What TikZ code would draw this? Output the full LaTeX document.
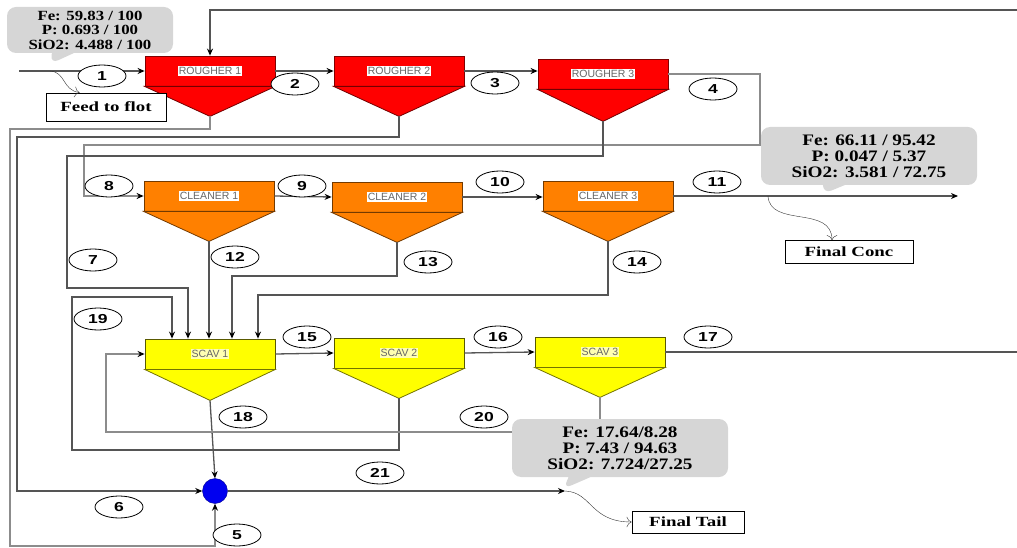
\documentclass[tikz,border=0pt]{standalone}
\usepackage{fontspec}
\setmainfont{Liberation Serif}
\newfontfamily\numfam{Liberation Sans}[FakeStretch=1.35]
\newfontfamily\tankfam{Liberation Sans}
\newfontfamily\infofam{Liberation Serif}[FakeStretch=1.2]
\newfontfamily\boxfam{Liberation Serif}[FakeStretch=1.35]
\usepackage{tikz}
\usetikzlibrary{arrows.meta,positioning,shapes.geometric,shapes.callouts,calc}
\definecolor{rougherred}{RGB}{255,0,0}
\definecolor{cleanerorange}{RGB}{255,128,0}
\definecolor{scavyellow}{RGB}{255,255,0}
\definecolor{linegray}{RGB}{85,85,85}
\definecolor{lightline}{RGB}{140,140,140}
\definecolor{infogray}{RGB}{214,214,214}
\definecolor{mixblue}{RGB}{0,0,240}
\setlength{\fboxsep}{1pt}
\newcommand{\tklbl}[2][white]{\colorbox{#1}{#2}}

\begin{document}
\begin{tikzpicture}[x=1pt,y=-1pt,
  tank/.style={rectangle,thick,minimum width=130pt,minimum height=30pt,inner sep=0pt,
               text=black!60,font=\tankfam\fontsize{10.5}{10.5}\selectfont},
  rougher/.style={tank,draw=rougherred!50!black,fill=rougherred},
  cleaner/.style={tank,draw=cleanerorange!45!black,fill=cleanerorange},
  scav/.style={tank,draw=scavyellow!35!black,fill=scavyellow},
  cone/.style={thick,draw=#1!45!black,fill=#1},
  num/.style={ellipse,draw,thick,fill=white,minimum width=48pt,minimum height=22pt,
              inner sep=0pt,font=\numfam\bfseries\fontsize{13}{13}\selectfont},
  pipe/.style={draw=linegray,line width=1.3pt},
  flow/.style={pipe,-{Stealth[length=7pt,width=6pt,color=black]}},
  info/.style={rectangle callout,fill=infogray,rounded corners=9pt,align=center,inner sep=0pt,
               callout pointer width=22pt,font=\infofam\bfseries\fontsize{16}{16}\selectfont},
  namebox/.style={rectangle,draw,thick,fill=white,inner sep=0pt,
                  font=\boxfam\bfseries\fontsize{14}{14}\selectfont},
  mixer/.style={circle,fill=mixblue,draw=mixblue!60!black,minimum size=25pt,inner sep=0pt},
  note/.style={-{To[length=5pt]},thin,black!80}
]
\clip (0,0) rectangle (1017,548);
%% Cuves
\node[rougher] (R1) at (210,71) {\tklbl{ROUGHER 1}};
\node[rougher] (R2) at (399,71) {\tklbl{ROUGHER 2}};
\node[rougher] (R3) at (603,74) {\tklbl{ROUGHER 3}};
\node[cleaner] (C1) at (209,196) {\tklbl{CLEANER 1}};
\node[cleaner] (C2) at (397,197) {\tklbl{CLEANER 2}};
\node[cleaner] (C3) at (608,196) {\tklbl{CLEANER 3}};
\node[scav]    (S1) at (210,354) {\tklbl[scavyellow!30]{SCAV 1}};
\node[scav]    (S2) at (399,353) {\tklbl[scavyellow!30]{SCAV 2}};
\node[scav]    (S3) at (600,352) {\tklbl[scavyellow!30]{SCAV 3}};
\draw[cone=rougherred]    (R1.south west) -- (R1.south east) -- ($(R1.south)+(0,30)$) coordinate (R1-b) -- cycle;
\draw[cone=rougherred]    (R2.south west) -- (R2.south east) -- ($(R2.south)+(0,30)$) coordinate (R2-b) -- cycle;
\draw[cone=rougherred]    (R3.south west) -- (R3.south east) -- ($(R3.south)+(0,32)$) coordinate (R3-b) -- cycle;
\draw[cone=cleanerorange] (C1.south west) -- (C1.south east) -- ($(C1.south)+(0,30)$) coordinate (C1-b) -- cycle;
\draw[cone=cleanerorange] (C2.south west) -- (C2.south east) -- ($(C2.south)+(0,30)$) coordinate (C2-b) -- cycle;
\draw[cone=cleanerorange] (C3.south west) -- (C3.south east) -- ($(C3.south)+(0,30)$) coordinate (C3-b) -- cycle;
\draw[cone=scavyellow]    (S1.south west) -- (S1.south east) -- ($(S1.south)+(0,31)$) coordinate (S1-b) -- cycle;
\draw[cone=scavyellow]    (S2.south west) -- (S2.south east) -- ($(S2.south)+(0,30)$) coordinate (S2-b) -- cycle;
\draw[cone=scavyellow]    (S3.south west) -- (S3.south east) -- ($(S3.south)+(0,30)$) coordinate (S3-b) -- cycle;
\node[mixer] (mix) at (215,491) {};
%% Boites
\node[namebox,minimum width=120pt,minimum height=28pt] (feedbox) at (106,107) {Feed to flot};
\node[namebox,minimum width=128pt,minimum height=23pt] (concbox) at (849,252) {Final Conc};
\node[namebox,minimum width=112pt,minimum height=22pt] (tailbox) at (688,522) {Final Tail};
\coordinate (feedin)    at (19,71);
\coordinate (feedsplit) at (50,71);
\coordinate (concsplit) at (768,196);
\coordinate (concout)   at (958,196);
\coordinate (tailout)   at (565,491);
%% Flux
\draw[flow] (feedin) -- (R1.west);
\draw[flow] (R1.east) -- (R2.west);
\draw[flow] (R2.east) -- (R2.east -| R3.west);
\draw[flow,draw=lightline] (R3.east) -| (760,145) -- (84,145) |- (C1.west);
\draw[flow,draw=lightline] (R1-b) -- (210,129) -- (10,129) -- (10,546) -| (mix.south);
\draw[flow] (R2-b) -- (399,137) -- (17,137) |- (mix.west);
\draw[flow] (R3-b) -- (603,156) -- (67,156) -- (67,288) -| ($(S1.north)+(-22,0)$);
\draw[flow] (C1.east) -- (C2.west);
\draw[flow] (C2.east) -- (C2.east -| C3.west);
\draw[flow] (C3.east) -- (concout);
\draw[flow] (C1-b) -- (C1-b |- S1.north);
\draw[flow] (C2-b) -- (397,276) -| ($(S1.north)+(22,0)$);
\draw[flow] (C3-b) -- (608,295) -| ($(S1.north)+(48,0)$);
\draw[flow] (S1.east) -- (S2.west);
\draw[flow] (S2.east) -- (S3.west);
\draw[flow] (S3.east) -- (1030,352) -- (1030,10) -| (R1.north);
\draw[flow] (S1-b) -- (mix.north);
\draw[flow] (S2-b) -- (399,450) -- (72,450) -- (72,297) -| ($(S1.north)+(-38,0)$);
\draw[flow,draw=lightline] (S3-b) -- (600,432) -- (106,432) |- (S1.west);
\draw[flow] (mix.east) -- (tailout);
\draw[note] (feedsplit) .. controls (66,72) and (62,90) .. ($(feedbox.north west)+(34,0)$);
\draw[note] (concsplit) .. controls (770,228) and (832,205) .. ($(concbox.north)+(-17,0)$);
\draw[note] (tailout) .. controls (592,492) and (590,522) .. (tailbox.west);
%% Numeros
\node[num] (n1)  at (102,76)  {1};
\node[num] (n2)  at (295,84)  {2};
\node[num] (n3)  at (495,83)  {3};
\node[num] (n4)  at (713,89)  {4};
\node[num] (n5)  at (237,535) {5};
\node[num] (n6)  at (119,507) {6};
\node[num] (n7)  at (93,260)  {7};
\node[num] (n8)  at (109,186) {8};
\node[num] (n9)  at (302,186) {9};
\node[num] (n10) at (500,182) {10};
\node[num] (n11) at (717,182) {11};
\node[num] (n12) at (235,257) {12};
\node[num] (n13) at (428,262) {13};
\node[num] (n14) at (637,262) {14};
\node[num] (n15) at (307,337) {15};
\node[num] (n16) at (498,337) {16};
\node[num] (n17) at (708,337) {17};
\node[num] (n18) at (243,417) {18};
\node[num] (n19) at (98,319)  {19};
\node[num] (n20) at (484,417) {20};
\node[num] (n21) at (380,473) {21};
%% Bulles
\node[info,minimum width=166pt,minimum height=46pt,callout absolute pointer={(50,64)},
      font=\infofam\bfseries\fontsize{14}{14.5}\selectfont] (feedinfo) at (90,30)
      {Fe: 59.83 / 100\\P: 0.693 / 100\\SiO2: 4.488 / 100};
\node[info,minimum width=216pt,minimum height=58pt,callout absolute pointer={(823,194)}] (concinfo) at (869,156)
      {Fe: 66.11 / 95.42\\P: 0.047 / 5.37\\SiO2: 3.581 / 72.75};
\node[info,minimum width=216pt,minimum height=58pt,callout absolute pointer={(563,489)}] (tailinfo) at (620,448)
      {Fe: 17.64/8.28\\P: 7.43 / 94.63\\SiO2: 7.724/27.25};
\end{tikzpicture}
\end{document}
